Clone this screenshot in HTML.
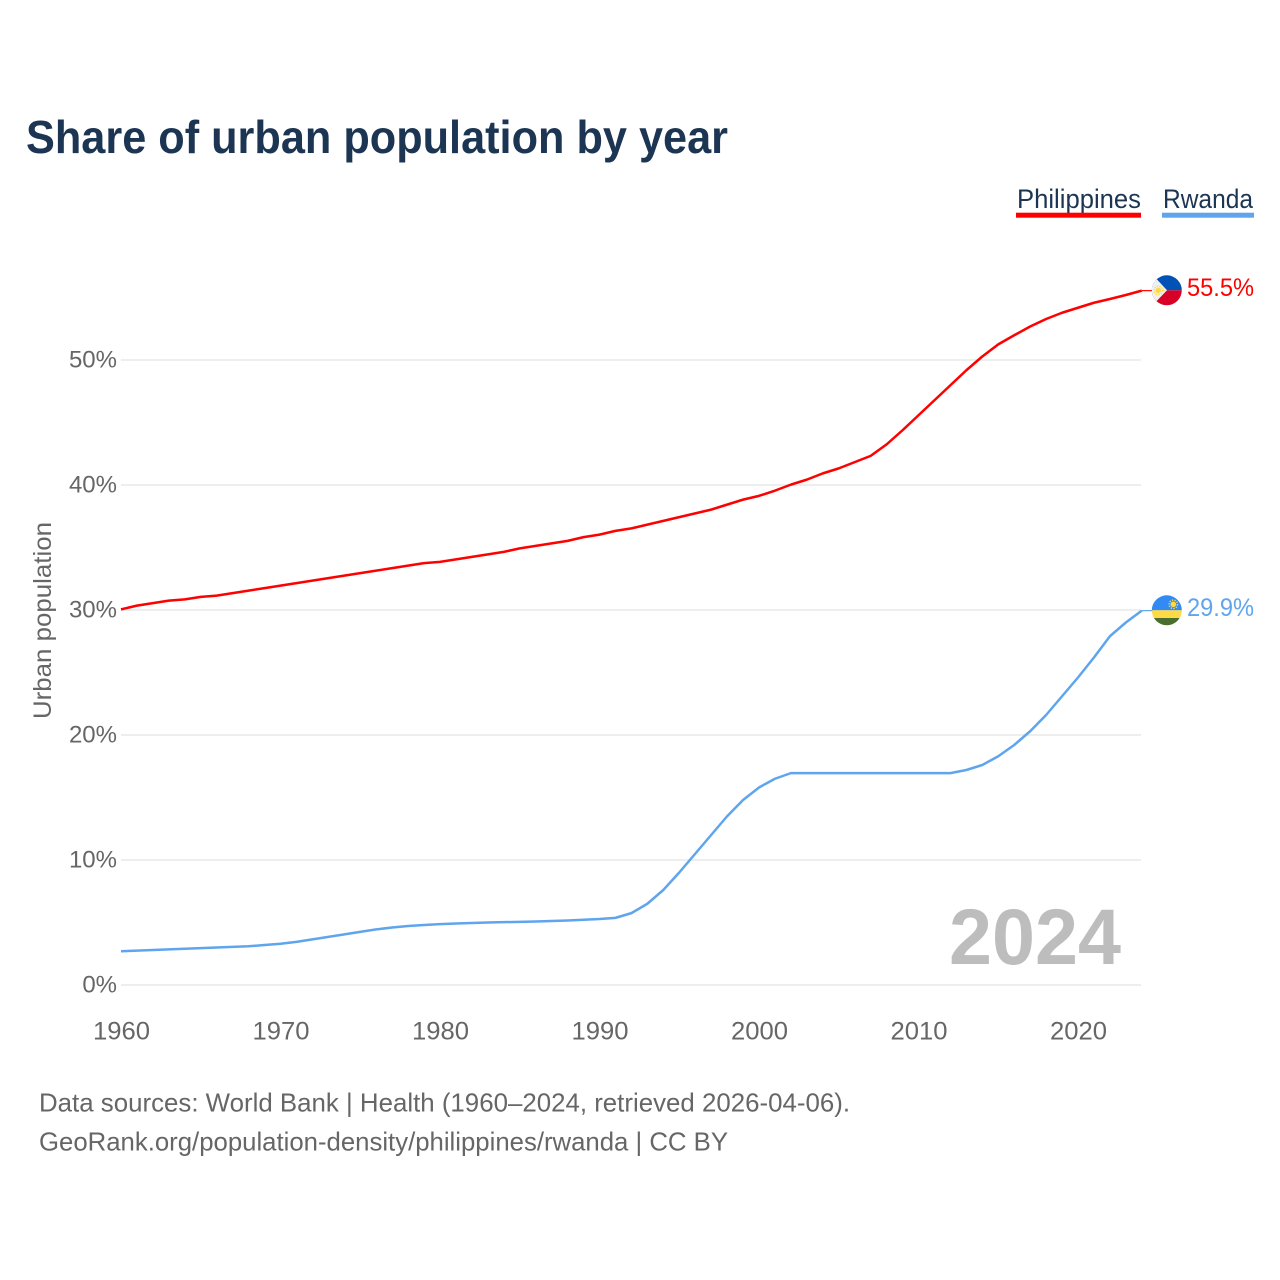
<!DOCTYPE html>
<html lang="en">
<head>
<meta charset="utf-8">
<title>Share of urban population by year</title>
<style>
html,body{margin:0;padding:0;background:#fff}
svg{display:block}
text{font-family:"Liberation Sans",sans-serif}
</style>
</head>
<body>
<svg id="chart" width="1280" height="1280" viewBox="0 0 1280 1280" xmlns="http://www.w3.org/2000/svg">
  <rect width="1280" height="1280" fill="#fff"/>
  <text x="26" y="153" font-size="46" font-weight="700" fill="#1b3553" textLength="702" lengthAdjust="spacingAndGlyphs">Share of urban population by year</text>
  <g>
    <text x="1017" y="208" font-size="27" fill="#1b3553" textLength="124" lengthAdjust="spacingAndGlyphs">Philippines</text>
    <rect x="1016" y="212.7" width="125" height="5" fill="#ff0000"/>
  </g>
  <g>
    <text x="1163" y="208" font-size="27" fill="#1b3553" textLength="90" lengthAdjust="spacingAndGlyphs">Rwanda</text>
    <rect x="1162" y="212.7" width="92" height="5" fill="#5fa5ee"/>
  </g>
  <g id="grid"></g>
  <g id="yticks"></g>
  <g id="xticks"></g>
  <text transform="translate(51,719) rotate(-90)" font-size="25" fill="#666" textLength="197" lengthAdjust="spacingAndGlyphs">Urban population</text>
  <text x="949" y="964" font-size="79" font-weight="700" fill="#bdbdbd" textLength="172" lengthAdjust="spacingAndGlyphs">2024</text>
  <g id="series"></g>
  <defs>
    <clipPath id="flag-ph"><circle cx="1166.8" cy="290.3" r="15"/></clipPath>
    <clipPath id="flag-rw"><circle cx="1166.8" cy="610.3" r="15"/></clipPath>
  </defs>
  <g clip-path="url(#flag-ph)">
    <rect x="1151" y="275" width="32" height="15.3" fill="#0052b4"/>
    <rect x="1151" y="290.3" width="32" height="16" fill="#d80027"/>
    <polygon points="1151,273 1167,290.3 1151,307" fill="#f0f0f0"/>
    <circle cx="1158.3" cy="290.3" r="2.8" fill="#ffda44"/>
    <circle cx="1158.3" cy="290.3" r="4.2" fill="none" stroke="#ffda44" stroke-width="1.4" stroke-dasharray="1.3 1.3"/>
    <circle cx="1155.5" cy="279.5" r="1" fill="#ffda44"/>
    <circle cx="1155.5" cy="301" r="1" fill="#ffda44"/>
    <circle cx="1163.5" cy="290.3" r="0.9" fill="#ffda44"/>
  </g>
  <g clip-path="url(#flag-rw)">
    <rect x="1151" y="595" width="32" height="15.3" fill="#338af3"/>
    <rect x="1151" y="610.3" width="32" height="7.7" fill="#ffda44"/>
    <rect x="1151" y="618" width="32" height="9" fill="#496e2d"/>
    <circle cx="1173.3" cy="604.3" r="2.8" fill="#ffda44"/>
    <circle cx="1173.3" cy="604.3" r="4.2" fill="none" stroke="#ffda44" stroke-width="1.4" stroke-dasharray="1.3 1.3"/>
  </g>
  <text x="1187" y="296" font-size="25" fill="#ff0000" textLength="67" lengthAdjust="spacingAndGlyphs">55.5%</text>
  <text x="1187" y="616" font-size="25" fill="#5fa5ee" textLength="67" lengthAdjust="spacingAndGlyphs">29.9%</text>
  <text x="39" y="1111.5" font-size="26" fill="#666" textLength="811" lengthAdjust="spacingAndGlyphs">Data sources: World Bank | Health (1960–2024, retrieved 2026-04-06).</text>
  <text x="39" y="1150.5" font-size="26" fill="#666" textLength="689" lengthAdjust="spacingAndGlyphs">GeoRank.org/population-density/philippines/rwanda | CC BY</text>
</svg>
<script>
var startYear = 1960;
var philippines = [30.05,30.35,30.55,30.75,30.85,31.05,31.15,31.35,31.55,31.75,31.95,32.15,32.35,32.55,32.75,32.95,33.15,33.35,33.55,33.75,33.85,34.05,34.25,34.45,34.65,34.93,35.13,35.33,35.53,35.83,36.03,36.33,36.53,36.83,37.13,37.43,37.73,38.03,38.43,38.83,39.13,39.55,40.03,40.43,40.93,41.33,41.83,42.33,43.25,44.38,45.58,46.78,47.98,49.18,50.28,51.25,51.98,52.68,53.28,53.78,54.18,54.58,54.88,55.2,55.55];
var rwanda = [2.7,2.75,2.8,2.85,2.9,2.95,3.0,3.05,3.1,3.2,3.3,3.45,3.65,3.85,4.05,4.25,4.45,4.6,4.72,4.8,4.87,4.92,4.96,5.0,5.03,5.05,5.08,5.12,5.16,5.22,5.28,5.37,5.75,6.5,7.6,9.0,10.5,12.0,13.5,14.8,15.8,16.5,16.95,16.95,16.95,16.95,16.95,16.95,16.95,16.95,16.95,16.95,16.95,17.2,17.6,18.3,19.2,20.3,21.6,23.1,24.6,26.2,27.9,29.0,29.95];
var yTickValues = [0,10,20,30,40,50];
var xTickValues = [1960,1970,1980,1990,2000,2010,2020];

var NS = 'http://www.w3.org/2000/svg';
function xScale(year){ return 121 + (year - 1960) * 15.95; }
function yScale(v){ return 985 - v * 12.5; }

var grid = document.getElementById('grid');
var yticks = document.getElementById('yticks');
var xticks = document.getElementById('xticks');
var seriesGroup = document.getElementById('series');

yTickValues.forEach(function(v){
  var line = document.createElementNS(NS, 'line');
  
  
  line.setAttribute('x1', 121);
  line.setAttribute('x2', 1141);
  line.setAttribute('y1', yScale(v));
  line.setAttribute('y2', yScale(v));
  line.setAttribute('stroke', '#eeeeee');
  line.setAttribute('stroke-width', '2');
  grid.appendChild(line);
  var t = document.createElementNS(NS, 'text');
  
  
  t.setAttribute('x', 117);
  t.setAttribute('y', yScale(v) + 7.5);
  t.setAttribute('text-anchor', 'end');
  t.setAttribute('font-size', '24');
  t.setAttribute('fill', '#666');
  t.textContent = v + '%';
  yticks.appendChild(t);
});

xTickValues.forEach(function(y){
  var t = document.createElementNS(NS, 'text');
  
  
  t.setAttribute('x', xScale(y) + 0.5);
  t.setAttribute('y', 1039.5);
  t.setAttribute('text-anchor', 'middle');
  t.setAttribute('font-size', '25');
  t.setAttribute('fill', '#666');
  t.setAttribute('textLength', '57');
  t.setAttribute('lengthAdjust', 'spacingAndGlyphs');
  t.textContent = y;
  xticks.appendChild(t);
});

function linePath(values){
  return values.map(function(v, i){
    return (i ? 'L' : 'M') + xScale(startYear + i).toFixed(2) + ' ' + yScale(v).toFixed(2);
  }).join(' ');
}
function leaderPath(values){
  var lastIndex = values.length - 1;
  var y = yScale(values[lastIndex]).toFixed(2);
  return 'M' + xScale(startYear + lastIndex).toFixed(2) + ' ' + y + ' L1153 ' + y;
}

var philippinesLeader = document.createElementNS(NS, 'path');


philippinesLeader.setAttribute('d', leaderPath(philippines));
philippinesLeader.setAttribute('fill', 'none');
philippinesLeader.setAttribute('stroke', '#ff0000');
philippinesLeader.setAttribute('stroke-width', '1.2');
seriesGroup.appendChild(philippinesLeader);

var philippinesLine = document.createElementNS(NS, 'path');


philippinesLine.setAttribute('d', linePath(philippines));
philippinesLine.setAttribute('fill', 'none');
philippinesLine.setAttribute('stroke', '#ff0000');
philippinesLine.setAttribute('stroke-width', '2.5');
philippinesLine.setAttribute('stroke-linejoin', 'round');
seriesGroup.appendChild(philippinesLine);

var rwandaLeader = document.createElementNS(NS, 'path');


rwandaLeader.setAttribute('d', leaderPath(rwanda));
rwandaLeader.setAttribute('fill', 'none');
rwandaLeader.setAttribute('stroke', '#5fa5ee');
rwandaLeader.setAttribute('stroke-width', '1.2');
seriesGroup.appendChild(rwandaLeader);

var rwandaLine = document.createElementNS(NS, 'path');


rwandaLine.setAttribute('d', linePath(rwanda));
rwandaLine.setAttribute('fill', 'none');
rwandaLine.setAttribute('stroke', '#5fa5ee');
rwandaLine.setAttribute('stroke-width', '2.5');
rwandaLine.setAttribute('stroke-linejoin', 'round');
seriesGroup.appendChild(rwandaLine);
</script>
</body>
</html>
